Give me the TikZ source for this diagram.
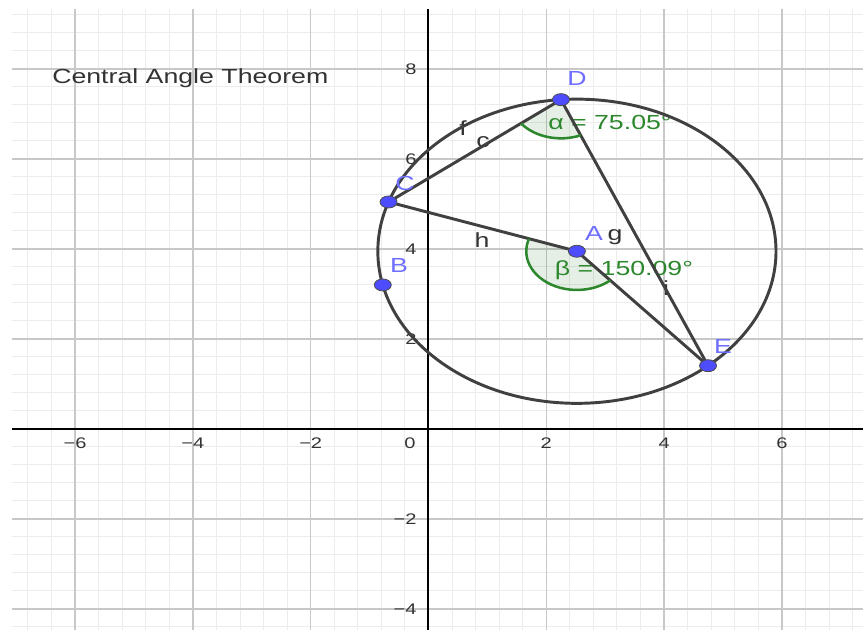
\documentclass[tikz,border=0pt]{standalone}
\usepackage{graphicx}
\usepackage{fontspec}
\setmainfont{Liberation Sans}
\usetikzlibrary{shapes.geometric}
\newcommand{\widetxt}[1]{\scalebox{1.309}[1]{#1}}
\definecolor{segc}{RGB}{64,64,64}
\definecolor{ptfill}{RGB}{77,77,255}
\definecolor{ptlab}{RGB}{110,110,255}
\definecolor{angc}{RGB}{45,135,45}
\definecolor{angdark}{RGB}{0,100,0}
\definecolor{gridmajor}{RGB}{200,200,200}
\definecolor{gridminor}{RGB}{236,236,236}
\definecolor{txt}{RGB}{51,51,51}
\tikzset{
  seg/.style={draw=segc, line width=2.2pt},
  minorgrid/.style={draw=gridminor, line width=0.75pt},
  majorgrid/.style={draw=gridmajor, line width=1.1pt},
  axisline/.style={draw=black, line width=1.5pt},
  ticklab/.style={text=txt, font=\fontsize{11.5}{13}\selectfont, inner sep=0pt},
  ptdot/.style={ellipse, fill=ptfill, draw=black!70, line width=0.6pt, minimum width=12.75pt, minimum height=9pt, inner sep=0pt},
  ptlabel/.style={text=ptlab, font=\fontsize{15.3}{18}\selectfont, inner sep=0pt, anchor=base},
  seglabel/.style={text=txt, font=\fontsize{15.3}{18}\selectfont, inner sep=0pt, anchor=base},
  angarc/.style={draw=angc, line width=1.9pt},
  angfill/.style={fill=angdark, fill opacity=0.1},
  anglabel/.style={text=angc, font=\fontsize{15.3}{18}\selectfont, inner sep=0pt, anchor=base},
  titlelab/.style={text=txt, font=\fontsize{15.3}{18}\selectfont, inner sep=0pt, anchor=base west}
}
\begin{document}
\begin{tikzpicture}[x=44.175pt, y=33.75pt]
\useasboundingbox (-7.2750,-4.4667) rectangle (7.3769,9.5333);
\fill[white] (-7.2750,-4.4667) rectangle (7.3769,9.5333);
% grid
\foreach \k in {-17,...,18} \draw[minorgrid] ({0.4*\k},-4.4667) -- ({0.4*\k},9.3333);
\foreach \k in {-11,...,23} \draw[minorgrid] (-7.07,{0.4*\k}) -- (7.3769,{0.4*\k});
\foreach \v in {-6,-4,-2,2,4,6} \draw[majorgrid] (\v,-4.4667) -- (\v,9.3333);
\foreach \v in {-4,-2,2,4,6,8} \draw[majorgrid] (-7.07,\v) -- (7.3769,\v);
% axes
\draw[axisline] (-7.07,0) -- (7.3769,0);
\draw[axisline] (0,-4.4667) -- (0,9.3333);
% tick labels
\foreach \v/\t in {-6/−6,-4/−4,-2/−2,2/2,4/4,6/6}
  \node[ticklab] (xt\v) at (\v,-0.311) {\widetxt{\t}};
\node[ticklab] (xt0) at (-0.314,-0.311) {\widetxt{0}};
\foreach \v/\t in {-4/−4,-2/−2,2/2,4/4,6/6,8/8}
  \node[ticklab, anchor=east] (yt\v) at (-0.2,\v) {\widetxt{\t}};
% title
\node[titlelab] (title) at (-6.392,7.682) {\widetxt{Central Angle Theorem}};
% geometry
\coordinate (A) at (2.52,3.95);
\path (A) ++(94.6:3.38) coordinate (D);
\path (A) ++(161.1:3.38) coordinate (C);
\path (A) ++(192.8:3.38) coordinate (B);
\path (A) ++(311.19:3.38) coordinate (E);
% angle sectors
\fill[angfill] (A) -- ++(161.1:0.86) arc[start angle=161.1, end angle=311.19, radius=0.86] -- cycle;
\fill[angfill] (D) -- ++(217.84:0.86) arc[start angle=217.84, end angle=292.9, radius=0.86] -- cycle;
% labels
\node[anglabel] (alab) at (3.081,6.660) {\widetxt{α = 75.05°}};
\node[anglabel] (blab) at (3.319,3.416) {\widetxt{β = 150.09°}};
\node[seglabel] (flab) at (0.586,6.522) {\widetxt{f}};
\node[seglabel] (clab) at (0.925,6.260) {\widetxt{c}};
\node[seglabel] (hlab) at (0.908,4.036) {\widetxt{h}};
\node[seglabel] (glab) at (3.166,4.187) {\widetxt{g}};
\node[seglabel] (ilab) at (4.032,2.975) {\widetxt{i}};
% circle and segments
\draw[seg] (A) circle[radius=3.38];
\draw[seg] (C) -- (D);
\draw[seg] (D) -- (E);
\draw[seg] (C) -- (A);
\draw[seg] (A) -- (E);
% angle arcs
\draw[angarc] (A) ++(161.1:0.86) arc[start angle=161.1, end angle=311.19, radius=0.86];
\draw[angarc] (D) ++(217.84:0.86) arc[start angle=217.84, end angle=292.9, radius=0.86];
% points
\node[ptdot] (Ad) at (A) {};
\node[ptdot] (Bd) at (B) {};
\node[ptdot] (Cd) at (C) {};
\node[ptdot] (Dd) at (D) {};
\node[ptdot] (Ed) at (E) {};
\node[ptlabel] (Alab) at (2.810,4.193) {\widetxt{A}};
\node[ptlabel] (Blab) at (-0.501,3.482) {\widetxt{B}};
\node[ptlabel] (Clab) at (-0.399,5.304) {\widetxt{C}};
\node[ptlabel] (Dlab) at (2.521,7.638) {\widetxt{D}};
\node[ptlabel] (Elab) at (5.0,1.682) {\widetxt{E}};
\end{tikzpicture}
\end{document}
